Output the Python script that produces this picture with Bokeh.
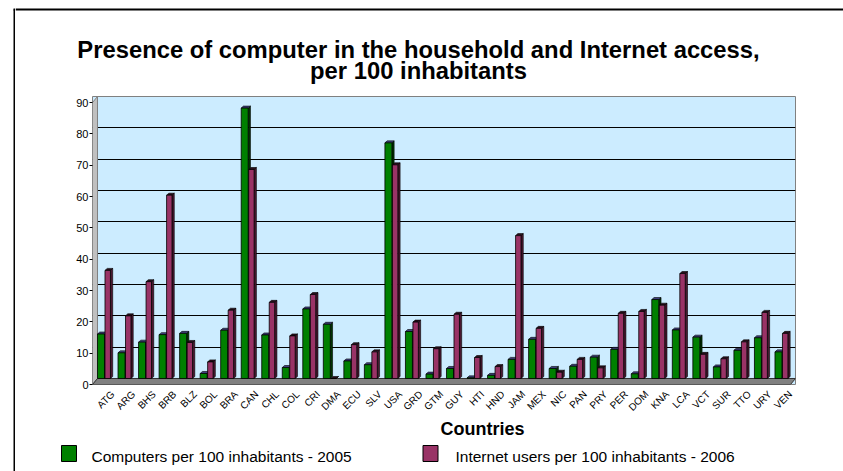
import json
import numpy as np
from bokeh.plotting import figure
from bokeh.layouts import column, row
from bokeh.models import Range1d, FixedTicker, CustomJSTickFormatter
from bokeh.core.properties import value
from bokeh.embed import file_html
from bokeh.resources import INLINE

countries = ["ATG", "ARG", "BHS", "BRB", "BLZ", "BOL", "BRA", "CAN", "CHL", "COL",
             "CRI", "DMA", "ECU", "SLV", "USA", "GRD", "GTM", "GUY", "HTI", "HND",
             "JAM", "MEX", "NIC", "PAN", "PRY", "PER", "DOM", "KNA", "LCA", "VCT",
             "SUR", "TTO", "URY", "VEN"]
computers_2005 = [14.2, 8.2, 11.6, 14.0, 14.4, 1.6, 15.4, 86.3, 13.9, 3.5,
                  22.2, 17.3, 5.6, 4.4, 75.2, 15.0, 1.4, 3.2, 0.2, 1.0,
                  6.1, 12.5, 3.2, 3.9, 6.8, 9.3, 1.5, 25.2, 15.5, 13.2,
                  3.7, 9.0, 13.0, 8.5]
internet_2006 = [34.5, 20.0, 30.9, 58.5, 11.5, 5.3, 21.8, 66.7, 24.3, 13.6,
                 26.8, 0.0, 10.8, 8.5, 68.2, 18.0, 9.5, 20.5, 6.7, 3.8,
                 45.6, 16.0, 2.0, 6.1, 3.4, 20.8, 21.4, 23.4, 33.5, 7.7,
                 6.3, 11.7, 21.1, 14.4]
y_ticks = [0, 10, 20, 30, 40, 50, 60, 70, 80, 90]
series_names = ["Computers per 100 inhabitants - 2005",
                "Internet users per 100 inhabitants - 2006"]
series_colors = ["#008000", "#993366"]
title_lines = ["Presence of computer in the household and Internet access,",
               "per 100 inhabitants"]
x_title = "Countries"

FONT = "Liberation Sans"
DEPTH_Y = 1.915      # depth of the 3D floor in value units
DEPTH_X = 0.2435     # depth of the 3D wall in category units
d = 0.11             # side face width (category units)
h = 0.64             # side face rise (value units)

W = 828              # width of the chart column (a 15 px strip sits on its left)
n = len(countries)


def strip(width, height):
    s = figure(width=width, height=height, output_backend="svg", toolbar_location=None,
               x_range=Range1d(0, width), y_range=Range1d(0, height),
               min_border_left=0, min_border_right=0, min_border_top=0, min_border_bottom=0)
    s.frame_align = False
    s.axis.visible = False
    s.grid.visible = False
    s.outline_line_color = None
    s.background_fill_color = "white"
    s.border_fill_color = "white"
    return s


# ---- left strip carrying the outer frame line
ls = strip(15, 471)
ls.segment(x0=[14, 13], y0=[0, 462], x1=[14, 15], y1=[462, 462],
           line_color="#000000", line_width=2)

# ---- title strip
ts = strip(W, 86)
ts.segment(x0=[0], y0=[77], x1=[W], y1=[77], line_color="#000000", line_width=2)
ts.text(x=[403, 403], y=[37.5, 16.5], text=title_lines, text_font=value(FONT),
        text_font_style="bold", text_font_size=value("23.8px"), text_align="center",
        text_baseline="middle", text_color="#000000")

# ---- main chart
p = figure(width=W, height=334, output_backend="svg", toolbar_location=None,
           x_range=Range1d(-DEPTH_X, n), y_range=Range1d(-DEPTH_Y, 90),
           min_border_left=77, min_border_right=48, min_border_top=10, min_border_bottom=36)
p.frame_align = False
p.background_fill_color = "#CCECFF"
p.border_fill_color = "white"
p.outline_line_color = "#808080"
p.xgrid.visible = False
p.ygrid.ticker = FixedTicker(ticks=y_ticks[1:])
p.ygrid.grid_line_color = "#000000"
p.ygrid.grid_line_width = 1

# left wall and floor
p.patch([-DEPTH_X, 0, 0, -DEPTH_X], [-DEPTH_Y, 0, 90, 90 - DEPTH_Y],
        fill_color="#C0C0C0", line_color="#808080", line_width=1)
p.patch([-DEPTH_X, 0, n, n - DEPTH_X], [-DEPTH_Y, 0, 0, -DEPTH_Y],
        fill_color="#808080", line_color="#333333", line_width=1)

c = np.arange(n) + 0.5


def bars(vals, x0, x1, front, side, top):
    vals = np.asarray(vals, dtype=float)
    xs_side = [[a, a + d, a + d, a] for a in x1]
    ys_side = [[0, h, v + h, v] for v in vals]
    p.patches(xs_side, ys_side, fill_color=side, line_color="#000000", line_width=0.6)
    xs_top = [[a, a + d, b + d, b] for a, b in zip(x0, x1)]
    ys_top = [[v, v + h, v + h, v] for v in vals]
    p.patches(xs_top, ys_top, fill_color=top, line_color="#000000", line_width=0.6)
    return p.quad(left=x0, right=x1, bottom=0, top=vals, fill_color=front,
                  line_color="#000000", line_width=0.8)


bars(computers_2005, c - 0.5, c - 0.16, series_colors[0], "#003300", "#404080")
bars(internet_2006, c - 0.135, c + 0.13, series_colors[1], "#4a1830", "#2a0e1c")

p.yaxis.ticker = FixedTicker(ticks=[t - DEPTH_Y for t in y_ticks])
p.yaxis.formatter = CustomJSTickFormatter(code="return String(Math.round(tick + %r));" % DEPTH_Y)
p.yaxis.axis_line_color = None
p.yaxis.major_tick_out = 3
p.yaxis.major_tick_in = 0
p.yaxis.major_tick_line_color = "#000000"
p.yaxis.minor_tick_line_color = None
p.yaxis.major_label_standoff = 1
p.yaxis.major_label_text_font = FONT
p.yaxis.major_label_text_font_size = "11px"
p.yaxis.major_label_text_color = "#000000"

p.xaxis.ticker = FixedTicker(ticks=list(c + 0.25))
p.xaxis.formatter = CustomJSTickFormatter(
    code="const cats = %s; return cats[Math.floor(tick)];" % json.dumps(countries))
p.xaxis.axis_line_color = None
p.xaxis.major_tick_line_color = None
p.xaxis.minor_tick_line_color = None
p.xaxis.major_label_orientation = np.pi / 4
p.xaxis.major_label_standoff = 2
p.xaxis.major_label_text_font = FONT
p.xaxis.major_label_text_font_size = "10px"
p.xaxis.major_label_text_color = "#000000"

# ---- bottom strip: axis title and legend
bs = strip(W, 51)
bs.text(x=[467], y=[42.5], text=[x_title], text_font=value(FONT), text_font_style="bold",
        text_font_size=value("18px"), text_align="center", text_baseline="middle",
        text_color="#000000")
bs.rect(x=[53.5, 415], y=18, width=15, height=16, fill_color=series_colors,
        line_color="#000000", line_width=1)
bs.text(x=[76, 440], y=15.3, text=series_names, text_font=value(FONT),
        text_font_size=value("15.5px"), text_baseline="middle", text_align="left",
        text_color="#000000")

layout = row(ls, column(ts, p, bs))
open("out.html", "w").write(file_html(layout, INLINE))
